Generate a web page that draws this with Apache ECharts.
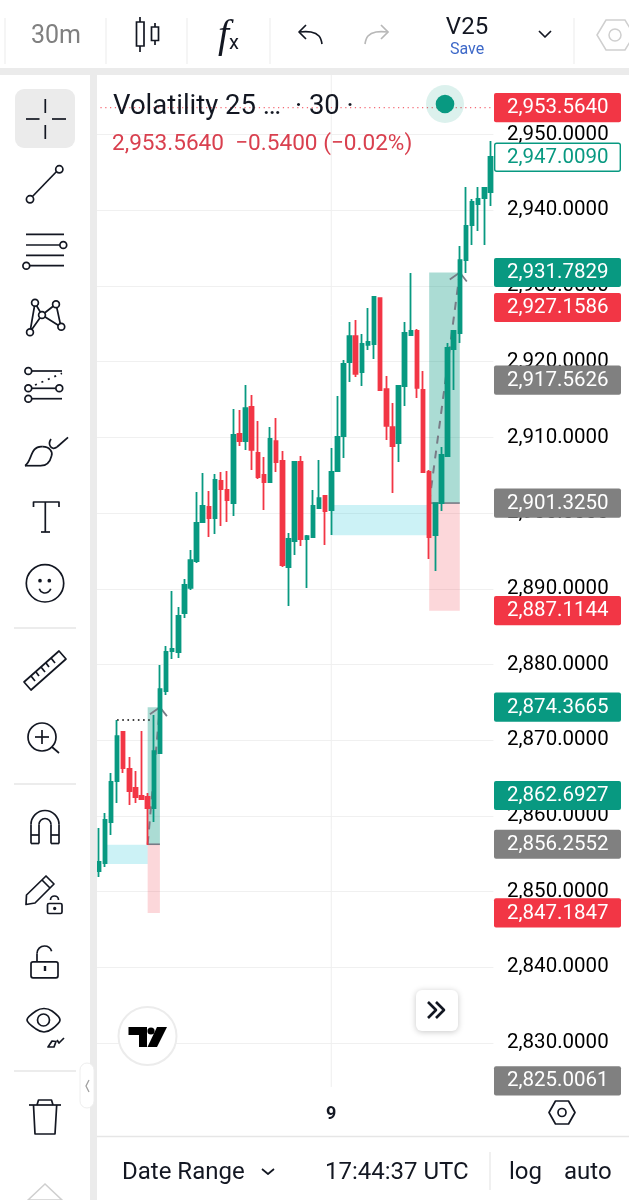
<!DOCTYPE html>
<html>
<head>
<meta charset="utf-8">
<style>html,body{margin:0;padding:0;background:#fff}#main{width:629px;height:1200px}</style>
<script src="https://cdn.jsdelivr.net/npm/echarts@6/dist/echarts.min.js"></script>
</head>
<body>
<div id="main"></div>
<script>
// 30 minute bars, the one labelled "9" is midnight
var times = ['05:00','05:30','06:00','06:30','07:00','07:30','08:00','08:30','09:00','09:30','10:00','10:30','11:00','11:30','12:00','12:30','13:00','13:30','14:00','14:30','15:00','15:30','16:00','16:30','17:00','17:30','18:00','18:30','19:00','19:30','20:00','20:30','21:00','21:30','22:00','22:30','23:00','23:30','9','00:30','01:00','01:30','02:00','02:30','03:00','03:30','04:00','04:30','05:00 ','05:30 ','06:00 ','06:30 ','07:00 ','07:30 ','08:00 ','08:30 ','09:00 ','09:30 ','10:00 ','10:30 ','11:00 ','11:30 ','12:00 ','12:30 ','13:00 '];
// open, close, low, high
var candles = [
  [2852.72,2853.91,2851.93,2858.40],[2853.78,2859.46,2853.25,2860.38],[2859.19,2864.48,2857.48,2865.67],[2864.61,2870.55,2861.70,2872.67],
  [2871.08,2866.33,2865.67,2871.22],[2866.20,2863.29,2861.44,2867.78],[2863.69,2862.50,2861.70,2865.93],[2862.63,2862.23,2862.10,2871.22],
  [2862.50,2861.04,2856.16,2863.03],[2861.04,2868.57,2859.19,2873.33],[2868.31,2876.76,2868.31,2879.93],[2876.50,2881.65,2875.97,2882.44],
  [2881.78,2882.05,2880.73,2889.71],[2881.65,2886.41,2880.86,2887.60],[2886.80,2890.50,2886.14,2891.29],[2890.11,2893.80,2889.84,2895.13],
  [2893.67,2898.69,2893.41,2902.79],[2898.82,2900.94,2898.69,2905.30],[2900.81,2899.35,2896.84,2902.92],[2899.35,2904.37,2897.24,2905.16],
  [2904.24,2903.18,2898.30,2905.43],[2903.05,2901.73,2898.82,2905.56],[2901.33,2910.32,2899.62,2913.75],[2910.45,2909.52,2908.86,2913.62],
  [2909.52,2913.88,2908.34,2916.92],[2914.02,2908.34,2905.69,2915.60],[2907.94,2904.77,2904.50,2912.17],[2905.03,2904.11,2900.41,2907.41],
  [2904.11,2909.79,2904.11,2911.37],[2909.52,2906.75,2905.43,2912.56],[2906.88,2893.14,2892.88,2908.20],[2892.88,2896.58,2887.73,2897.37],
  [2896.31,2906.75,2894.47,2906.88],[2906.75,2896.58,2895.65,2907.54],[2896.58,2896.97,2890.11,2897.11],[2896.84,2900.94,2896.84,2903.05],
  [2900.67,2901.99,2900.67,2907.01],[2902.26,2900.28,2895.79,2902.26],[2900.41,2905.43,2897.11,2908.60],[2905.56,2910.05,2905.56,2915.47],
  [2910.18,2919.70,2907.28,2920.22],[2919.96,2923.39,2917.32,2925.24],[2923.39,2918.38,2917.98,2925.51],[2918.64,2922.34,2916.79,2923.66],
  [2922.21,2922.60,2921.55,2927.09],[2922.34,2928.55,2920.36,2928.55],[2928.41,2916.26,2916.26,2928.41],[2916.39,2911.51,2909.66,2918.11],
  [2911.37,2908.86,2902.65,2914.54],[2909.26,2916.79,2906.75,2916.79],[2916.79,2923.79,2914.15,2925.24],[2923.53,2924.06,2923.53,2931.72],
  [2924.06,2916.53,2915.20,2924.32],[2916.26,2905.43,2905.30,2918.77],[2905.43,2896.84,2893.94,2905.69],[2897.11,2901.33,2892.35,2901.33],
  [2901.33,2907.68,2900.28,2908.73],[2907.54,2921.81,2907.54,2922.47],[2921.68,2924.06,2916.26,2924.19],[2923.79,2933.43,2922.47,2935.28],
  [2933.43,2937.93,2931.72,2943.08],[2938.06,2941.10,2935.42,2941.49],[2940.83,2941.49,2937.27,2943.08],[2941.62,2942.95,2935.42,2943.08],
  [2942.42,2947.04,2940.57,2949.15]
];
// price tags on the right: price, kind
var tags = [
  [2953.5640,'red'],[2947.0090,'outline'],[2931.7829,'green'],[2927.1586,'red'],[2917.5626,'gray'],[2901.3250,'gray'],
  [2887.1144,'red'],[2874.3665,'green'],[2862.6927,'green'],[2856.2552,'gray'],[2847.1847,'red'],[2825.0061,'gray']
];
// drawings: bar from, bar to, then prices
var gaps = [[1,8,2856.20,2853.65],[38,54,2901.07,2897.07]];
var positions = [[8,10,2874.3665,2856.2552,2847.1847],[54,59,2931.7829,2901.3250,2887.1144]];
var dotted = [[3,8,2872.67]];
var lastPrice = 2953.5640;
var crossBar = 38;

var GREEN = '#089981', RED = '#F23645', GRAY = '#808080', INK = '#131722';
var tagColor = {red: RED, green: GREEN, gray: GRAY, outline: '#fff'};

function money(v) {
  return v.toFixed(4).replace(/\B(?=(\d{3})+(?!\d))/, ',');
}

function renderGap(params, api) {
  var g = gaps[params.dataIndex];
  var a = api.coord([g[0], g[2]]), b = api.coord([g[1], g[3]]);
  return {type: 'rect', shape: {x: a[0], y: a[1], width: b[0] - a[0], height: b[1] - a[1]}, style: {fill: 'rgba(0,188,212,0.2)'}};
}

function renderPosition(params, api) {
  var p = positions[params.dataIndex];
  var top = api.coord([p[0], p[2]]), mid = api.coord([p[1], p[3]]), low = api.coord([p[1], p[4]]);
  var w = mid[0] - top[0];
  var tip = api.coord([p[1], p[2]]);
  return {type: 'group', children: [
    {type: 'rect', shape: {x: top[0], y: top[1], width: w, height: mid[1] - top[1]}, style: {fill: 'rgba(8,153,129,0.34)'}},
    {type: 'rect', shape: {x: top[0], y: mid[1], width: w, height: low[1] - mid[1]}, style: {fill: 'rgba(242,54,69,0.2)'}},
    {type: 'line', shape: {x1: top[0], y1: mid[1], x2: mid[0], y2: mid[1]}, style: {stroke: '#787B86', lineWidth: 1.6}},
    {type: 'line', shape: {x1: top[0], y1: mid[1], x2: tip[0], y2: tip[1]}, style: {stroke: '#787B86', lineWidth: 2, lineDash: [8, 7]}},
    {type: 'polyline', shape: {points: [[tip[0] - 10, tip[1] + 7], [tip[0], tip[1]], [tip[0] + 7, tip[1] + 9]]}, style: {stroke: '#787B86', lineWidth: 1.8, fill: null}}
  ]};
}

function renderGuides(params, api) {
  var box = params.coordSys;
  var y = api.coord([0, lastPrice])[1];
  var x = api.coord([crossBar, 2900])[0];
  var kids = [
    {type: 'line', shape: {x1: x, y1: box.y, x2: x, y2: api.coord([crossBar, 2824.2])[1]}, style: {stroke: '#eeeeee', lineWidth: 1}},
    {type: 'line', shape: {x1: box.x, y1: y, x2: box.x + box.width, y2: y}, style: {stroke: 'rgba(242,54,69,0.75)', lineWidth: 1.2, lineDash: [1.2, 3.6]}}
  ];
  dotted.forEach(function(d) {
    var a = api.coord([d[0], d[2]]), b = api.coord([d[1], d[2]]);
    kids.push({type: 'line', shape: {x1: a[0], y1: a[1], x2: b[0] + 2, y2: b[1]}, style: {stroke: '#000', lineWidth: 1.6, lineDash: [1.6, 3.6]}});
  });
  return {type: 'group', children: kids};
}

function renderTag(params, api) {
  var t = tags[params.dataIndex];
  var y = api.coord([0, t[0]])[1];
  var outline = t[1] == 'outline';
  return {type: 'group', children: [
    {type: 'rect', shape: {x: outline ? 494.7 : 494, y: y - (outline ? 14 : 14.6), width: outline ? 125.6 : 127, height: outline ? 28 : 29.2, r: 2},
      style: {fill: tagColor[t[1]], stroke: outline ? GREEN : null, lineWidth: 1.4}},
    {type: 'text', style: {text: money(t[0]), x: 507, y: y + 0.5, fill: outline ? GREEN : '#fff', font: '20.5px Roboto', textAlign: 'left', textVerticalAlign: 'middle'}}
  ]};
}

// ---- app chrome around the chart
var ui = [];
function add(el) { el.z = 100; el.silent = true; ui.push(el); }
function line(x1, y1, x2, y2, color, w, dash) {
  add({type: 'line', shape: {x1: x1, y1: y1, x2: x2, y2: y2}, style: {stroke: color || INK, lineWidth: w || 1.7, lineDash: dash}});
}
function poly(pts, closed, fill, smooth, w) {
  add({type: closed ? 'polygon' : 'polyline', shape: {points: pts, smooth: smooth || 0}, style: {stroke: INK, lineWidth: w || 1.7, fill: fill || null, lineJoin: 'round'}});
}
function ring(x, y, r, fill, stroke, w) {
  add({type: 'circle', shape: {cx: x, cy: y, r: r}, style: {fill: fill || '#fff', stroke: stroke === undefined ? INK : stroke, lineWidth: w || 1.7}});
}
function box(x, y, w, h, fill, r, extra) {
  var st = {fill: fill};
  for (var k in extra) st[k] = extra[k];
  add({type: 'rect', shape: {x: x, y: y, width: w, height: h, r: r || 0}, style: st});
}
function arc(x, y, r, a, b) {
  add({type: 'arc', shape: {cx: x, cy: y, r: r, startAngle: a, endAngle: b, clockwise: true}, style: {stroke: INK, lineWidth: 1.7, fill: null}});
}
function text(s, x, y, size, color, align, font) {
  add({type: 'text', style: {text: s, x: x, y: y + 2, fill: color || INK, font: font || (size + 'px Roboto'), textAlign: align || 'left', textVerticalAlign: 'middle'}});
}

// bars and gutters
box(0, 0, 629, 68, '#fff');
box(0, 68, 629, 7, '#ebebeb');
box(90, 68, 7, 1132, '#ebebeb');
box(0, 75, 90, 1125, '#fff', [0, 8, 0, 0]);
box(97, 1137, 532, 63, '#fff');
line(97, 1136.5, 629, 1136.5, '#e6e6e6', 1.4);
[5, 106, 187, 270, 574].forEach(function(x) { line(x, 18, x, 64, '#eeeeee', 1.2); });

// top toolbar
text('30m', 31, 35, 25, '#808080');
line(140, 17, 140, 52); box(136.5, 22, 7.5, 24, '#fff', 0, {stroke: INK, lineWidth: 1.7});
line(155, 23, 155, 45); box(151.5, 27, 7, 13.5, '#fff', 0, {stroke: INK, lineWidth: 1.7});
text('f', 218, 34, 36, INK, 'left', 'italic 40px "Liberation Serif"');
text('x', 229, 42, 20);
poly([[322, 44], [319, 36], [311, 32], [299, 32]], false, null, 0.4);
poly([[306, 25], [299, 32], [306, 39]]);
add({type: 'polyline', shape: {points: [[365, 44], [368, 36], [376, 32], [388, 32]], smooth: 0.4}, style: {stroke: '#b8b8b8', lineWidth: 1.7, fill: null}});
add({type: 'polyline', shape: {points: [[381, 25], [388, 32], [381, 39]]}, style: {stroke: '#b8b8b8', lineWidth: 1.7, fill: null}});
text('V25', 467, 26, 24, INK, 'center');
text('Save', 467, 48, 16, '#3d68c8', 'center');
poly([[539, 31], [545, 37], [551, 31]]);
add({type: 'polygon', shape: {points: [[597, 35], [606, 20], [625, 20], [634, 35], [625, 50], [606, 50]]}, style: {stroke: '#cfcfcf', lineWidth: 1.5, fill: '#fff'}});
ring(615, 35, 6, '#fff', '#cfcfcf', 1.5);

// left toolbar
box(15, 89, 60, 59, '#ebebeb', 9);
line(45.3, 99, 45.3, 113); line(45.3, 125, 45.3, 139); line(26, 119, 39.5, 119); line(52, 119, 66, 119);
line(30, 199, 59, 169); ring(59.3, 169.3, 3.6); ring(30, 199.3, 3.6);
line(26, 234.3, 64, 234.3); line(26, 245, 60, 245); line(26, 255.3, 64, 255.3); line(30, 265.7, 64, 265.7);
ring(63.3, 245, 3.4); ring(26.3, 265.7, 3.4);
poly([[30, 332], [35, 303], [42, 315], [56, 304], [61, 327], [42, 315], [30, 332]]);
ring(35, 302.7, 3.4); ring(56, 304.3, 3.4); ring(42, 315, 3.4); ring(61.3, 326.7, 3.4); ring(30, 332.3, 3.4);
line(32, 371, 62, 371); line(32, 388.3, 56, 388.3); line(32, 398.7, 62, 398.7);
line(35, 385, 62, 373.3, INK, 1.7, [2, 5]);
ring(28.3, 371, 3.4); ring(28.3, 388.3, 3.4); ring(59.3, 388.3, 3.4); ring(28.3, 398.7, 3.4);
// brush: leaf and hook
add({type: 'bezierCurve', shape: {x1: 25, y1: 465.7, cpx1: 32, cpy1: 462, cpx2: 30, cpy2: 445, x2: 42.7, y2: 446.7}, style: {stroke: INK, lineWidth: 1.7, fill: null}});
add({type: 'bezierCurve', shape: {x1: 42.7, y1: 446.7, cpx1: 50, cpy1: 447, cpx2: 53, cpy2: 452, x2: 51.5, y2: 456}, style: {stroke: INK, lineWidth: 1.7, fill: null}});
add({type: 'bezierCurve', shape: {x1: 51.5, y1: 456, cpx1: 50, cpy1: 462, cpx2: 46, cpy2: 465.7, x2: 41, y2: 465.7}, style: {stroke: INK, lineWidth: 1.7, fill: null}});
line(25, 465.7, 41, 465.7);
add({type: 'bezierCurve', shape: {x1: 51, y1: 439, cpx1: 47, cpy1: 445, cpx2: 52, cpy2: 451, x2: 57, y2: 447}, style: {stroke: INK, lineWidth: 1.7, fill: null}});
line(57, 447, 68, 437.3);
poly([[33.5, 507], [33.5, 502], [59, 502], [59, 507]]); line(45.3, 502, 45.3, 532); line(41, 532, 50, 532);
ring(45, 583.3, 18.7);
ring(40, 580.7, 1, INK, INK); ring(49.3, 580.7, 1, INK, INK);
arc(45, 587, 6, 0.3, Math.PI - 0.3);
line(14, 628, 76, 628, '#e6e6e6', 1.4);
add({type: 'polygon', shape: {points: [[24, 682], [59, 651], [66, 659], [31, 690]]}, style: {stroke: INK, lineWidth: 1.7, fill: null, lineJoin: 'round'}});
[[31, 676, 35, 681], [36, 672, 39, 676], [41, 667, 45, 672], [46, 663, 49, 667], [51, 658, 55, 663]].forEach(function(t) { line(t[0], t[1], t[2], t[3]); });
ring(42, 737, 14); line(52, 747, 59, 753);
line(42, 730, 42, 744); line(35, 737, 49, 737);
line(14, 784, 76, 784, '#e6e6e6', 1.4);
arc(45, 824.5, 14, Math.PI, 2 * Math.PI); arc(45, 824.5, 6, Math.PI, 2 * Math.PI);
line(31, 824.5, 31, 843.5); line(59, 824.5, 59, 843.5); line(39, 824.5, 39, 843.5); line(51, 824.5, 51, 843.5);
line(31, 843.5, 39, 843.5); line(51, 843.5, 59, 843.5); line(31, 835, 39, 835); line(51, 835, 59, 835);
poly([[26, 904.5], [26.5, 895], [46, 876], [54, 884], [35, 903]], true);
line(42, 880, 50, 888);
box(47.5, 903.5, 14.5, 10, '#fff', 1.5, {stroke: INK, lineWidth: 1.7});
arc(54.5, 900, 4, Math.PI, 2 * Math.PI); ring(54.7, 908.5, 0.8, INK, INK);
box(31, 961.8, 27, 16, '#fff', 2, {stroke: INK, lineWidth: 1.7});
arc(44.5, 953.5, 7.5, Math.PI, 1.9 * Math.PI); line(37, 953.5, 37, 961.8);
line(45, 966, 45, 971, INK, 2.4);
poly([[27, 1020], [36, 1011], [44, 1008.5], [52, 1011], [60, 1020], [52, 1029], [44, 1032], [36, 1029]], true, null, 0.3);
ring(43.5, 1020, 6);
poly([[48, 1047], [52, 1041], [56, 1041.5], [54, 1047]], true); poly([[57, 1040], [59, 1043], [64, 1038]]);
line(14, 1071, 76, 1071, '#e6e6e6', 1.4);
line(29, 1105, 61, 1105); poly([[37, 1105], [38.5, 1100], [51.5, 1100], [53, 1105]]);
poly([[33.5, 1105], [35, 1134], [55, 1134], [56.7, 1105]]);
add({type: 'polygon', shape: {points: [[28, 1200], [45, 1184], [62, 1200]]}, style: {stroke: '#cfcfcf', lineWidth: 1.5, fill: '#fff'}});

// collapse tab, replay button, logo
box(80, 1063, 14, 45, '#fff', 7, {stroke: '#eeeeee', lineWidth: 1});
add({type: 'polyline', shape: {points: [[89, 1080], [86, 1086], [89, 1092]]}, style: {stroke: '#a0a0a0', lineWidth: 1.3, fill: null}});
box(416, 990, 42, 41, '#fff', 6, {shadowBlur: 6, shadowColor: 'rgba(0,0,0,0.22)', shadowOffsetY: 1});
poly([[428, 1002], [436, 1010], [428, 1018]], false, null, 0, 2.6); poly([[436, 1002], [444, 1010], [436, 1018]], false, null, 0, 2.6);
ring(147.5, 1036, 29, '#fff', '#ececec', 2);
add({type: 'polygon', shape: {points: [[128.5, 1027], [147, 1027], [147, 1047], [139, 1047], [139, 1035], [128.5, 1035]]}, style: {fill: '#000'}});
ring(151, 1031, 3.6, '#000', null);
add({type: 'polygon', shape: {points: [[157, 1027], [167, 1027], [157, 1047], [147.5, 1047]]}, style: {fill: '#000'}});

// bottom bar
poly([[549, 1112.5], [555.5, 1101], [568.5, 1101], [575, 1112.5], [568.5, 1124], [555.5, 1124]], true, '#fff');
ring(562, 1112.5, 4);
text('Date Range', 122, 1171, 24);
poly([[262, 1169], [268, 1174], [274, 1169]]);
text('17:44:37 UTC', 325, 1171, 24);
line(490, 1152, 490, 1190, '#e6e6e6', 1.2);
text('log', 509, 1171, 24);
text('auto', 564, 1171, 24);

// legend
ring(445, 104, 19, 'rgba(8,153,129,0.14)', null);
ring(445, 104, 9.3, GREEN, null);
text('Volatility 25 …  · 30 ·', 113, 105, 27.5);
text('2,953.5640  \u22120.5400 (\u22120.02%)', 112, 142, 22.6, '#d9404f');

var myChart = echarts.init(document.getElementById('main'));
var option = {
  animation: false,
  backgroundColor: '#fff',
  grid: {left: 95.64, width: 397.8, top: 58.9, height: 1059.8},
  xAxis: {
    type: 'category',
    data: times,
    boundaryGap: true,
    axisLine: {show: false},
    axisTick: {show: false},
    splitLine: {show: false},
    axisLabel: {
      margin: -13,
      interval: function(i) { return i === crossBar; },
      fontFamily: 'Roboto', fontWeight: 'bold', fontSize: 18, color: INK
    }
  },
  yAxis: {
    type: 'value',
    position: 'right',
    scale: true,
    min: 2820,
    max: 2960,
    interval: 10,
    axisLine: {show: false},
    axisTick: {show: false},
    splitLine: {show: true, showMinLine: false, showMaxLine: false, lineStyle: {color: '#f0f0f0', width: 1}},
    axisLabel: {
      margin: 13.6,
      showMinLabel: false,
      showMaxLabel: false,
      fontFamily: 'Roboto', fontSize: 20.5, color: '#000',
      formatter: function(v) { return money(v); }
    }
  },
  graphic: {elements: ui},
  series: [
    {type: 'custom', z: 1, data: gaps, renderItem: renderGap, silent: true},
    {type: 'custom', z: 1, data: positions, renderItem: renderPosition, silent: true},
    {type: 'custom', z: 1, data: [0], renderItem: renderGuides, silent: true},
    {
      type: 'candlestick',
      z: 2,
      data: candles,
      barWidth: 4,
      itemStyle: {color: GREEN, color0: RED, borderColor: GREEN, borderColor0: RED, borderWidth: 1.8}
    },
    {type: 'custom', z: 5, data: tags, renderItem: renderTag, silent: true}
  ]
};
myChart.setOption(option);
</script>
</body>
</html>
